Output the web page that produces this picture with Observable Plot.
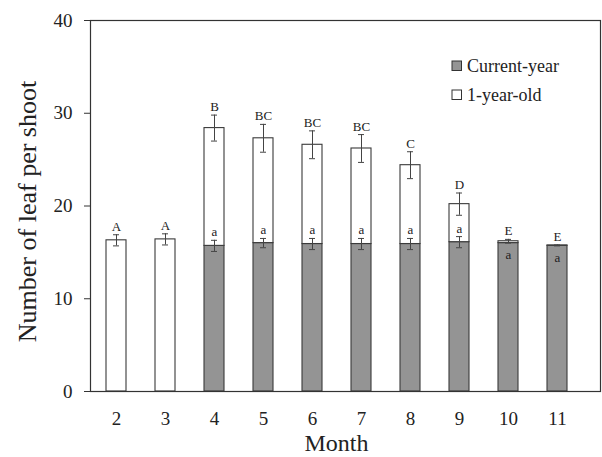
<!DOCTYPE html>
<html><head><meta charset="utf-8">
<script src="https://cdn.jsdelivr.net/npm/d3@7"></script>
<script src="https://cdn.jsdelivr.net/npm/@observablehq/plot@0.6"></script>
<style>
body{margin:0;background:#fff;}
#chart{width:602px;height:457px;}
#chart svg, #chart svg text{font-family:"Liberation Serif","Times New Roman",serif !important;}
</style>
</head><body>
<div id="chart"></div>
<script>
const months = [2, 3, 4, 5, 6, 7, 8, 9, 10, 11];
const currentYear = [0, 0, 15.7, 16.0, 15.9, 15.9, 15.9, 16.1, 16.0, 15.7];
const oneYearOld = [16.3, 16.4, 12.7, 11.3, 10.7, 10.3, 8.5, 4.1, 0.2, 0.05];
const errTotal = [0.6, 0.6, 1.4, 1.5, 1.5, 1.5, 1.45, 1.2, 0.2, 0.05];
const errCurrent = [null, null, 0.6, 0.5, 0.6, 0.6, 0.6, 0.6, null, null];
const upperLetters = ["A", "A", "B", "BC", "BC", "BC", "C", "D", "E", "E"];
const lowerLetters = ["", "", "a", "a", "a", "a", "a", "a", "a", "a"];
const seriesNames = ["Current-year", "1-year-old"];
const seriesColors = ["#949494", "#ffffff"];
const yTicks = [0, 10, 20, 30, 40];

const font = '"Liberation Serif","Times New Roman",serif';
const rows = [];
months.forEach((m, i) => {
  if (currentYear[i] > 0) rows.push({month: m, series: seriesNames[0], value: currentYear[i]});
  if (oneYearOld[i] > 0) rows.push({month: m, series: seriesNames[1], value: oneYearOld[i]});
});
const info = months.map((m, i) => ({
  month: m,
  total: currentYear[i] + oneYearOld[i],
  errT: errTotal[i],
  cur: currentYear[i],
  errC: errCurrent[i],
  up: upperLetters[i],
  low: lowerLetters[i]
}));
const curErr = info.filter(d => d.errC != null);
const lowAbove = info.filter(d => d.low && d.errC != null);
const lowInside = info.filter(d => d.low && d.errC == null);

const chart = Plot.plot({
  width: 602,
  height: 457,
  marginLeft: 90,
  marginRight: 2,
  marginTop: 20,
  marginBottom: 66,
  style: {fontFamily: font, background: "#fff", color: "#222"},
  x: {type: "band", domain: months, paddingInner: 0.595, paddingOuter: 0.457, align: 0.32},
  y: {domain: [0, 40]},
  color: {domain: seriesNames, range: seriesColors},
  marks: [
    Plot.barY(rows, {x: "month", y: "value", fill: "series", stroke: "#3a3a3a", strokeWidth: 1.1}),
    Plot.ruleX(info, {x: "month", y1: d => d.total - d.errT, y2: d => d.total + d.errT, stroke: "#444", strokeWidth: 1}),
    Plot.tickY(info, {x: "month", y: d => d.total + d.errT, stroke: "#444", insetLeft: 7, insetRight: 7}),
    Plot.tickY(info, {x: "month", y: d => d.total - d.errT, stroke: "#444", insetLeft: 7, insetRight: 7}),
    Plot.ruleX(curErr, {x: "month", y1: d => d.cur - d.errC, y2: d => d.cur + d.errC, stroke: "#444", strokeWidth: 1}),
    Plot.tickY(curErr, {x: "month", y: d => d.cur + d.errC, stroke: "#444", insetLeft: 7, insetRight: 7}),
    Plot.tickY(curErr, {x: "month", y: d => d.cur - d.errC, stroke: "#444", insetLeft: 7, insetRight: 7}),
    Plot.text(info, {x: "month", y: d => d.total + d.errT, text: "up", dy: -4, lineAnchor: "bottom", fontSize: 13, fontFamily: font, fill: "#222"}),
    Plot.text(lowAbove, {x: "month", y: d => d.cur + d.errC, text: "low", dy: -4, lineAnchor: "bottom", fontSize: 13, fontFamily: font, fill: "#222"}),
    Plot.text(lowInside, {x: "month", y: "cur", text: "low", dy: 7, lineAnchor: "top", fontSize: 13, fontFamily: font, fill: "#222"}),
    Plot.frame({stroke: "#333", strokeWidth: 1.2}),
    Plot.axisY({ticks: yTicks, tickSize: 6, tickPadding: 12, fontSize: 19, fontFamily: font, label: null, stroke: "#333"}),
    Plot.axisX({tickSize: 0, tickPadding: 20, fontSize: 19, fontFamily: font, label: null})
  ]
});
document.getElementById("chart").appendChild(chart);

const svg = d3.select(chart);
svg.append("text")
  .attr("transform", "translate(36,211.5) rotate(-90)")
  .attr("text-anchor", "middle")
  .attr("font-size", 26)
  .attr("fill", "#222")
  .text("Number of leaf per shoot");
svg.append("text")
  .attr("x", 336.5).attr("y", 451)
  .attr("text-anchor", "middle")
  .attr("font-size", 24)
  .attr("fill", "#222")
  .text("Month");
const leg = svg.append("g").attr("text-anchor", "start");
seriesNames.forEach((name, i) => {
  const y0 = 61 + i * 29;
  leg.append("rect").attr("x", 452).attr("y", y0).attr("width", 9.5).attr("height", 9.5)
    .attr("fill", seriesColors[i]).attr("stroke", "#333").attr("stroke-width", 1);
  leg.append("text").attr("x", 467).attr("y", y0 + 11).attr("text-anchor", "start")
    .attr("font-size", 18).attr("fill", "#222").text(name);
});
</script>
</body></html>
